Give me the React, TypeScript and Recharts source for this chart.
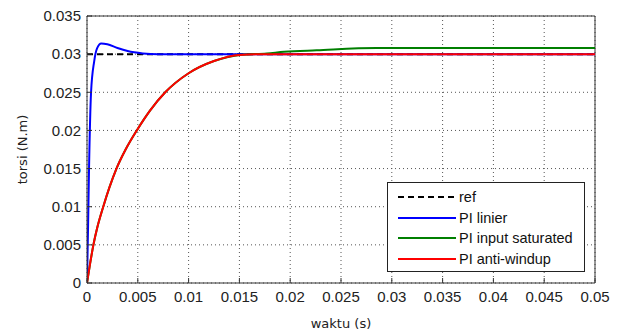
import { CartesianGrid, Legend, Line, LineChart, ReferenceLine, XAxis, YAxis } from "recharts";

const X_TICKS = [0, 0.005, 0.01, 0.015, 0.02, 0.025, 0.03, 0.035, 0.04, 0.045, 0.05];
const Y_TICKS = [0, 0.005, 0.01, 0.015, 0.02, 0.025, 0.03, 0.035];

const REF_T = [0, 0.05];
const REF_Y = [0.03, 0.03];

const LINIER_T = [0, 0.0001, 0.0002, 0.0004, 0.0007, 0.001, 0.0014, 0.002, 0.003, 0.004, 0.0055, 0.007, 0.05];
const LINIER_Y = [0, 0.007, 0.015, 0.025, 0.029, 0.0308, 0.0314, 0.0313, 0.0308, 0.0304, 0.0301, 0.03, 0.03];

const SAT_T = [0, 0.0003, 0.00063, 0.001, 0.0016, 0.0022, 0.0029, 0.0038, 0.0049, 0.0062, 0.0077, 0.01, 0.0125, 0.015, 0.0177, 0.0194, 0.0226, 0.0285, 0.05];
const SAT_Y = [0, 0.0025, 0.005, 0.0072, 0.01, 0.0125, 0.015, 0.0175, 0.02, 0.0226, 0.025, 0.0275, 0.0291, 0.0299, 0.0301, 0.0303, 0.0305, 0.0308, 0.0308];

const AW_T = [0, 0.0003, 0.00063, 0.001, 0.0016, 0.0022, 0.0029, 0.0038, 0.0049, 0.0062, 0.0077, 0.01, 0.0125, 0.015, 0.0177, 0.05];
const AW_Y = [0, 0.0025, 0.005, 0.0072, 0.01, 0.0125, 0.015, 0.0175, 0.02, 0.0226, 0.025, 0.0275, 0.0291, 0.0299, 0.03, 0.03];

const SERIES = [
  { name: "ref", t: REF_T, y: REF_Y, color: "#000000", dash: "6 4" },
  { name: "PI linier", t: LINIER_T, y: LINIER_Y, color: "#0000ff", dash: undefined },
  { name: "PI input saturated", t: SAT_T, y: SAT_Y, color: "#007f00", dash: undefined },
  { name: "PI anti-windup", t: AW_T, y: AW_Y, color: "#ff0000", dash: undefined },
];

const TICK_FONT = "'Liberation Sans', Arial, sans-serif";
const LABEL_FONT = "'DejaVu Sans', Verdana, sans-serif";

function LegendBox() {
  return (
    <div
      style={{
        position: "absolute",
        left: 387,
        top: 182,
        width: 198,
        height: 90,
        border: "1px solid #222",
        background: "#fff",
        fontFamily: TICK_FONT,
        fontSize: 14.5,
        color: "#111",
        boxSizing: "border-box",
        padding: "4px 0 0 10px",
      }}
    >
      {SERIES.map((s) => (
        <div key={s.name} style={{ display: "flex", alignItems: "center", height: 20.5 }}>
          <svg width={58} height={6} style={{ marginRight: 3 }}>
            <line x1={0} y1={3} x2={58} y2={3} stroke={s.color} strokeWidth={2} strokeDasharray={s.dash} />
          </svg>
          <span>{s.name}</span>
        </div>
      ))}
    </div>
  );
}

export default function App() {
  return (
    <div style={{ position: "absolute", left: 0, top: 0, width: 620, height: 334, background: "#fff" }}>
      <LineChart width={620} height={334} margin={{ top: 16, right: 25, bottom: 0, left: 0 }}>
        <CartesianGrid stroke="#555" strokeDasharray="1 3" />
        <XAxis
          type="number"
          dataKey="t"
          domain={[0, 0.05]}
          ticks={X_TICKS}
          allowDataOverflow
          height={51}
          tickSize={-5}
          tickMargin={13}
          stroke="#333"
          tick={{ fill: "#222", fontSize: 15, fontFamily: TICK_FONT }}
          label={{ value: "waktu (s)", position: "insideBottom", offset: 6, fill: "#222", fontSize: 13, fontFamily: LABEL_FONT }}
        />
        <YAxis
          type="number"
          dataKey="v"
          domain={[0, 0.035]}
          ticks={Y_TICKS}
          allowDataOverflow
          width={87}
          tickSize={-5}
          tickMargin={11}
          stroke="#333"
          tick={{ fill: "#222", fontSize: 15, fontFamily: TICK_FONT }}
          label={{ value: "torsi (N.m)", angle: -90, position: "insideLeft", offset: 22, fill: "#222", fontSize: 13, fontFamily: LABEL_FONT, style: { textAnchor: "middle" } }}
        />
        <ReferenceLine y={0.035} stroke="#333" />
        <ReferenceLine x={0.05} stroke="#333" />
        {SERIES.map((s) => (
          <Line
            key={s.name}
            data={s.t.map((t, i) => ({ t, v: s.y[i] }))}
            dataKey="v"
            name={s.name}
            type="monotone"
            stroke={s.color}
            strokeWidth={2}
            strokeDasharray={s.dash}
            dot={false}
            isAnimationActive={false}
          />
        ))}
        <Legend content={() => null} />
      </LineChart>
      <LegendBox />
    </div>
  );
}
